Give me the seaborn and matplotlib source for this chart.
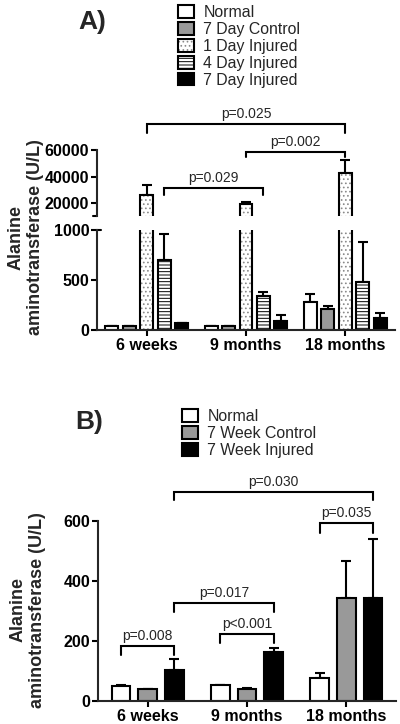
import numpy as np
import pandas as pd
import seaborn as sns
import matplotlib.pyplot as plt

# --- data ---
groups = ['6 weeks', '9 months', '18 months']

a_levels = ['Normal', '7 Day Control', '1 Day Injured', '4 Day Injured', '7 Day Injured']
a_normal = [38, 40, 277]
a_normal_err = [3, 3, 80]
a_ctrl = [38, 38, 210]
a_ctrl_err = [3, 3, 33]
a_inj1 = [26200, 19250, 43000]
a_inj1_err = [7500, 1950, 9500]
a_inj4 = [700, 343, 483]
a_inj4_err = [257, 34, 394]
a_inj7 = [68, 90, 123]
a_inj7_err = [4, 60, 44]

b_levels = ['Normal', '7 Week Control', '7 Week Injured']
b_normal = [50, 52, 78]
b_normal_err = [2, 3, 16]
b_ctrl = [39, 39, 343]
b_ctrl_err = [2, 3, 125]
b_inj = [105, 163, 343]
b_inj_err = [34, 15, 196]

a_colors = ['white', '#999999', 'white', 'white', 'black']
a_hatches = ['', '', '....', '-----', '']
a_hatch_colors = ['black', 'black', '#8a8a8a', 'black', 'black']
b_colors = ['white', '#999999', 'black']

# p-value brackets: (group1, level1, group2, level2, y, drop, label)
a_brackets = [
    (0, 2, 2, 2, 79500, 72750, 'p=0.025'),
    (1, 2, 2, 2, 58500, 54500, 'p=0.002'),
    (0, 3, 1, 3, 31500, 26250, 'p=0.029'),
]
b_brackets = [
    (0, 2, 2, 2, 697, 670, 'p=0.030'),
    (2, 0, 2, 2, 593, 560, 'p=0.035'),
    (0, 2, 1, 2, 327, 297, 'p=0.017'),
    (1, 0, 1, 2, 223, 193, 'p<0.001'),
    (0, 0, 0, 2, 183, 153, 'p=0.008'),
]


def long_df(levels, means, errs):
    rows = []
    for lev, m, e in zip(levels, means, errs):
        for g, mv, ev in zip(groups, m, e):
            rows.append({'age': g, 'group': lev, 'value': mv, 'err': ev})
    return pd.DataFrame(rows)


df_a = long_df(a_levels, [a_normal, a_ctrl, a_inj1, a_inj4, a_inj7],
               [a_normal_err, a_ctrl_err, a_inj1_err, a_inj4_err, a_inj7_err])
df_b = long_df(b_levels, [b_normal, b_ctrl, b_inj],
               [b_normal_err, b_ctrl_err, b_inj_err])

sns.set_theme(style='ticks')
plt.rcParams['font.family'] = ['Liberation Sans', 'DejaVu Sans']
plt.rcParams['hatch.linewidth'] = 0.7

W, H = 400, 724
fig = plt.figure(figsize=(W / 100, H / 100), dpi=100)


def px_axes(left, top, right, bottom):
    return fig.add_axes([left / W, 1 - bottom / H, (right - left) / W, (bottom - top) / H])


def set_hatch_color(p, color):
    # grey dots but black outline
    if hasattr(p, 'set_hatchcolor'):
        p.set_hatchcolor(color)
    else:
        p._hatch_color = plt.matplotlib.colors.to_rgba(color)


def draw_bars(ax, df, levels, colors, hatches, hatch_colors, width, gap):
    sns.barplot(data=df, x='age', y='value', hue='group', order=groups,
                hue_order=levels, palette=dict(zip(levels, colors)),
                width=width, gap=gap, saturation=1, edgecolor='black',
                linewidth=1.5, errorbar=None, legend=False, ax=ax)
    for cont, hatch, hc, lev in zip(ax.containers, hatches, hatch_colors, levels):
        sub = df[df['group'] == lev].set_index('age').loc[groups]
        xs = [p.get_x() + p.get_width() / 2 for p in cont]
        for p in cont:
            p.set_hatch(hatch)
            set_hatch_color(p, hc)
        ax.errorbar(xs, sub['value'], yerr=[np.zeros(len(xs)), sub['err']],
                    fmt='none', ecolor='black', elinewidth=1.5, capsize=3.5,
                    capthick=1.5, zorder=0.5)
    ax.set_xlabel('')
    ax.set_ylabel('')
    ax.set_xlim(-0.5, 2.5)


def style_axis(ax):
    for s in ['top', 'right']:
        ax.spines[s].set_visible(False)
    for s in ['left', 'bottom']:
        ax.spines[s].set_linewidth(1.5)
    ax.tick_params(width=1.5, length=4, pad=1.5, labelsize=11.5, colors='black')
    for lbl in ax.get_xticklabels() + ax.get_yticklabels():
        lbl.set_fontweight('bold')


def add_brackets(ax, brackets):
    for g1, l1, g2, l2, y, drop, label in brackets:
        p1 = ax.containers[l1][g1]
        p2 = ax.containers[l2][g2]
        x1 = p1.get_x() + p1.get_width() / 2
        x2 = p2.get_x() + p2.get_width() / 2
        ax.plot([x1, x1, x2, x2], [drop, y, y, drop], color='black', lw=1.5,
                clip_on=False, solid_joinstyle='miter')
        ax.annotate(label, xy=((x1 + x2) / 2, y), xytext=(0, 2),
                    textcoords='offset points', ha='center', va='bottom',
                    fontsize=10, annotation_clip=False)


# ---------- Panel A (broken y axis) ----------
ax_top = px_axes(97, 150, 395, 216)
ax_low = px_axes(97, 230, 395, 330)

for ax in (ax_top, ax_low):
    draw_bars(ax, df_a, a_levels, a_colors, a_hatches, a_hatch_colors, 0.88, 0.26)

ax_top.set_ylim(10500, 60000)
ax_top.set_yticks([20000, 40000, 60000])
ax_top.set_xticks([])
ax_top.spines['bottom'].set_visible(False)
style_axis(ax_top)
ax_top.plot([-0.012, 0], [0, 0], transform=ax_top.transAxes, color='black',
            lw=1.5, clip_on=False)

ax_low.set_ylim(0, 1000)
ax_low.set_yticks([0, 500, 1000])
style_axis(ax_low)
ax_low.plot([0, 0.012], [1, 1], transform=ax_low.transAxes, color='black',
            lw=1.5, clip_on=False)

add_brackets(ax_top, a_brackets)

fig.text(78 / W, 1 - 22.5 / H, 'A)', fontsize=19, fontweight='bold', va='center')
fig.text(26 / W, 1 - 237 / H, 'Alanine\naminotransferase (U/L)', rotation=90,
         fontsize=13, fontweight='bold', ha='center', va='center',
         multialignment='center')
fig.legend(handles=list(ax_low.containers), labels=a_levels, loc='upper left',
           bbox_to_anchor=(178 / W, 1 - 5 / H), frameon=False, fontsize=11.4,
           handlelength=1.0, handleheight=0.85, handletextpad=0.6,
           labelspacing=0.12, borderpad=0, borderaxespad=0)

# ---------- Panel B ----------
ax_b = px_axes(98, 521, 396, 701)
draw_bars(ax_b, df_b, b_levels, b_colors, ['', '', ''], ['black'] * 3, 0.806, 0.29)
ax_b.set_ylim(0, 600)
ax_b.set_yticks([0, 200, 400, 600])
style_axis(ax_b)
add_brackets(ax_b, b_brackets)

fig.text(75 / W, 1 - 421.5 / H, 'B)', fontsize=19, fontweight='bold', va='center')
fig.text(28 / W, 1 - 610 / H, 'Alanine\naminotransferase (U/L)', rotation=90,
         fontsize=13, fontweight='bold', ha='center', va='center',
         multialignment='center')
fig.legend(handles=list(ax_b.containers), labels=b_levels, loc='upper left',
           bbox_to_anchor=(182 / W, 1 - 409 / H), frameon=False, fontsize=11.4,
           handlelength=1.0, handleheight=0.85, handletextpad=0.6,
           labelspacing=0.12, borderpad=0, borderaxespad=0)

fig.savefig('out.png', dpi=100)
